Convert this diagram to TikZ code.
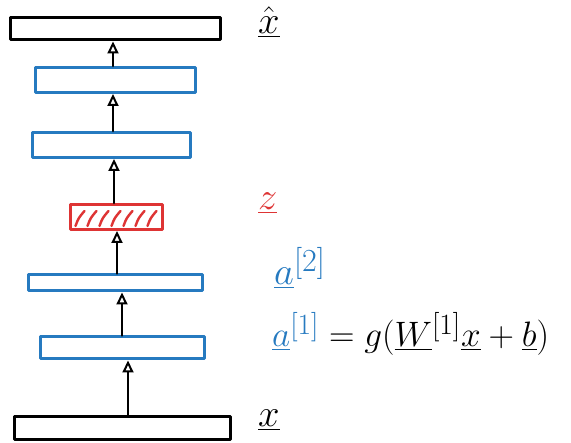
\documentclass[tikz,border=0pt]{standalone}
\usetikzlibrary{arrows.meta,calc}
\definecolor{hblue}{RGB}{38,122,192}
\definecolor{hred}{RGB}{222,52,52}
\newcommand{\biglbl}[2][1.55]{\scalebox{#1}{#2}}
\begin{document}
\begin{tikzpicture}[x=1pt,y=-1pt,line cap=round,line join=round,
  box/.style={draw=#1,line width=3pt,inner sep=0pt,fill=white},
  arr/.style={draw=black,line width=2.6pt,-{Triangle[length=12pt,width=11pt,fill=white,line width=2pt]}},
  lab/.style={font=\fontsize{24.88}{30}\selectfont,inner sep=0pt},
  hatch/.style={draw=hred,line width=2.4pt}]
\useasboundingbox (0,0) rectangle (571,443);
\node[box=black,minimum width=210pt,minimum height=22pt] (out) at (115,29) {};
\node[box=hblue,minimum width=160pt,minimum height=25pt] (d2) at (115,80) {};
\node[box=hblue,minimum width=158pt,minimum height=25pt] (d1) at (111,145) {};
\node[box=hred,minimum width=92pt,minimum height=25pt] (z) at (116,217) {};
\node[box=hblue,minimum width=174pt,minimum height=16pt] (e2) at (115,283) {};
\node[box=hblue,minimum width=164pt,minimum height=22pt] (e1) at (122,348) {};
\node[box=black,minimum width=216pt,minimum height=23pt] (in) at (122,428) {};
% hatching
\foreach \dx in {7,19,31,43,55,67,79}
  \draw[hatch] ($(z.south west)+(\dx,-5)$) .. controls +(3,-8) .. ++(9,-15);
% arrows
\draw[arr] ([xshift=6pt]in.north) -- ([xshift=6pt]e1.south);
\draw[arr] (e1.north) -- ([xshift=7pt]e2.south);
\draw[arr] ([xshift=2pt]e2.north) -- ([xshift=1pt]z.south);
\draw[arr] ([xshift=-2pt]z.north) -- ([xshift=3pt]d1.south);
\draw[arr] ([xshift=2pt]d1.north) -- ([xshift=-2pt]d2.south);
\draw[arr] ([xshift=-2pt]d2.north) -- ([xshift=-2pt]out.south);
% labels
\node[lab,anchor=base west] (lxh) at (258,34) {\biglbl{$\hat{\underline{x}}$}};
\node[lab,anchor=base west,text=hred] (lz) at (258,210) {\biglbl{$\underline{z}$}};
\node[lab,anchor=base west,text=hblue] (la2) at (274,285) {\biglbl{$\underline{a}^{[2]}$}};
\node[lab,anchor=base west] (la1) at (272,347) {\biglbl[1.42]{$\textcolor{hblue}{\underline{a}^{[1]}} = g(\underline{W}^{[1]}\underline{x} + \underline{b})$}};
\node[lab,anchor=base west] (lx) at (258,427) {\biglbl{$\underline{x}$}};
\end{tikzpicture}
\end{document}
